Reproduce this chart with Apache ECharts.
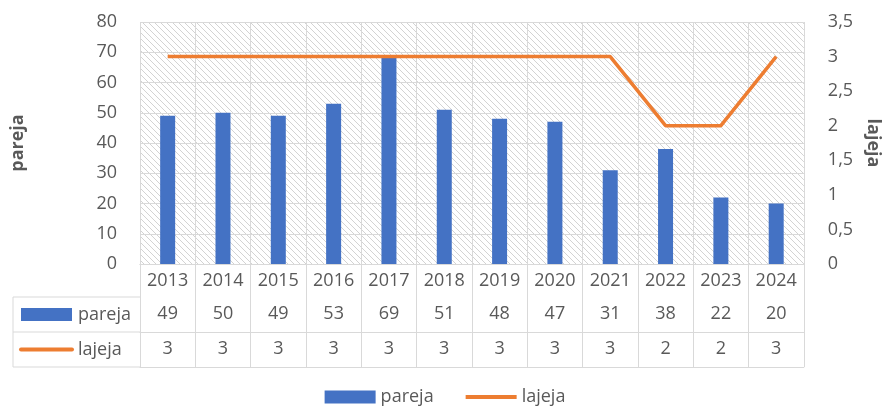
<!DOCTYPE html>
<html>
<head>
<meta charset="utf-8">
<script src="https://cdn.jsdelivr.net/npm/echarts@6/dist/echarts.min.js"></script>
<style>
html, body { margin: 0; padding: 0; background: #fff; }
#Builder { width: 890px; height: 417px; }
</style>
</head>
<body>
<div id="Builder"></div>
<script>
var years = ['2013', '2014', '2015', '2016', '2017', '2018', '2019', '2020', '2021', '2022', '2023', '2024']
var pareja = [49, 50, 49, 53, 69, 51, 48, 47, 31, 38, 22, 20]
var lajeja = [3, 3, 3, 3, 3, 3, 3, 3, 3, 2, 2, 3]

// rozmiary siatki wykresu
var L = 140, R = 86, T = 22, B = 153
var rowH = 35
var gray = '#595959'
var lineGray = '#d9d9d9'
var font = 'Open Sans'

// tlo w ukosne paski
function hatch() {
    var c = document.createElement('canvas')
    c.width = 6
    c.height = 6
    var ctx = c.getContext('2d')
    ctx.fillStyle = '#fff'
    ctx.fillRect(0, 0, 6, 6)
    ctx.strokeStyle = '#d3d3d3'
    ctx.lineWidth = 1
    ctx.beginPath()
    ctx.moveTo(-1, -1); ctx.lineTo(7, 7)
    ctx.moveTo(-1, 5); ctx.lineTo(1, 7)
    ctx.moveTo(5, -1); ctx.lineTo(7, 1)
    ctx.stroke()
    return c
}

var bottomY = 417 - B
var tableLeft = 13

function tableAxis(data, offset, showLabel) {
    return {
        type: 'category',
        data: data,
        position: 'bottom',
        offset: offset,
        axisLine: { show: true, lineStyle: { color: lineGray, width: 1 } },
        axisTick: { show: false },
        axisLabel: { show: showLabel, color: gray, fontSize: 18, fontFamily: font, margin: 8 },
        splitLine: { show: false }
    }
}

var option = {
    animation: false,
    textStyle: { fontFamily: font },
    grid: {
        left: L, right: R, top: T, bottom: B,
        show: true,
        borderWidth: 0,
        backgroundColor: { image: hatch(), repeat: 'repeat' }
    },
    legend: {
        bottom: 6,
        left: 'center',
        itemWidth: 51,
        itemHeight: 13,
        itemGap: 30,
        textStyle: { color: gray, fontSize: 18, fontFamily: font },
        data: [
            { name: 'pareja', icon: 'rect' },
            { name: 'lajeja', itemStyle: { opacity: 0 }, lineStyle: { width: 4 } }
        ]
    },
    xAxis: [
        {
            type: 'category',
            data: years,
            position: 'bottom',
            axisLine: { show: true, lineStyle: { color: lineGray, width: 1 } },
            axisTick: { show: true, length: rowH * 3 - 2, lineStyle: { color: lineGray } },
            axisLabel: { color: gray, fontSize: 18, fontFamily: font, margin: 8 },
            splitLine: { show: true, lineStyle: { color: lineGray, width: 1 } }
        },
        tableAxis(pareja.map(String), 33, true),
        tableAxis(lajeja.map(String), 68, true),
        tableAxis(years, 103, false)
    ],
    yAxis: [
        {
            type: 'value',
            min: 0, max: 80, interval: 10,
            name: 'pareja',
            nameLocation: 'middle',
            nameGap: 113,
            nameTextStyle: { color: gray, fontSize: 18, fontWeight: 'bold', fontFamily: font },
            axisLine: { show: false },
            axisTick: { show: false },
            axisLabel: { color: gray, fontSize: 18, fontFamily: font, margin: 23 },
            splitLine: { show: true, lineStyle: { color: lineGray, width: 1 } }
        },
        {
            type: 'value',
            min: 0, max: 3.5, interval: 0.5,
            name: 'lajeja',
            nameLocation: 'middle',
            nameGap: 50,
            nameRotate: -90,
            nameTextStyle: { color: gray, fontSize: 18, fontWeight: 'bold', fontFamily: font },
            axisLine: { show: false },
            axisTick: { show: false },
            axisLabel: {
                color: gray, fontSize: 18, fontFamily: font, margin: 24,
                formatter: function(v) { return String(v).replace('.', ',') }
            },
            splitLine: { show: false }
        }
    ],
    series: [
        {
            name: 'pareja',
            type: 'bar',
            xAxisIndex: 0,
            yAxisIndex: 0,
            barWidth: 15,
            itemStyle: { color: '#4472C4' },
            data: pareja
        },
        {
            name: 'lajeja',
            type: 'line',
            xAxisIndex: 0,
            yAxisIndex: 1,
            symbol: 'none',
            lineStyle: { color: '#ED7D31', width: 3.5 },
            itemStyle: { color: '#ED7D31' },
            data: lajeja
        }
    ],
    graphic: [
        // lewa kolumna tabeli danych
        { type: 'line', shape: { x1: tableLeft, y1: bottomY + rowH - 2, x2: L, y2: bottomY + rowH - 2 }, style: { stroke: lineGray, lineWidth: 1 } },
        { type: 'line', shape: { x1: tableLeft, y1: bottomY + rowH * 2 - 2, x2: L, y2: bottomY + rowH * 2 - 2 }, style: { stroke: lineGray, lineWidth: 1 } },
        { type: 'line', shape: { x1: tableLeft, y1: bottomY + rowH * 3 - 2, x2: L, y2: bottomY + rowH * 3 - 2 }, style: { stroke: lineGray, lineWidth: 1 } },
        { type: 'line', shape: { x1: tableLeft, y1: bottomY + rowH - 2, x2: tableLeft, y2: bottomY + rowH * 3 - 2 }, style: { stroke: lineGray, lineWidth: 1 } },
        { type: 'rect', shape: { x: 21, y: bottomY + 44, width: 51, height: 13 }, style: { fill: '#4472C4' } },
        { type: 'text', x: 78, y: bottomY + rowH * 1.5 - 2, style: { text: 'pareja', fill: gray, font: '18px "Open Sans"', verticalAlign: 'middle' } },
        { type: 'line', shape: { x1: 21, y1: bottomY + rowH * 2.5 - 2, x2: 72, y2: bottomY + rowH * 2.5 - 2 }, style: { stroke: '#ED7D31', lineWidth: 4, lineCap: 'round' } },
        { type: 'text', x: 78, y: bottomY + rowH * 2.5 - 2, style: { text: 'lajeja', fill: gray, font: '18px "Open Sans"', verticalAlign: 'middle' } }
    ]
}

var builder = echarts.init(document.getElementById('Builder'))
builder.setOption(option)
window.addEventListener('resize', function() {
    builder.resize()
})
</script>
</body>
</html>
